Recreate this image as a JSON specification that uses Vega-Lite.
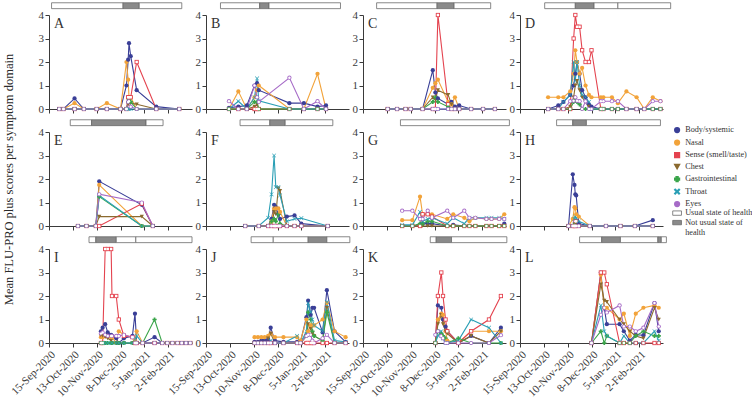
{
"$schema":"https://vega.github.io/schema/vega-lite/v6.json",
"background":"white",
"padding":{"left":1,"top":2,"right":0,"bottom":0},
"autosize":{"type":"pad"},
"columns":4,
"spacing":{"row":23,"column":14},
"bounds":"flush",
"resolve":{"scale":{"color":"shared","shape":"shared","fill":"shared"},"legend":{"color":"shared","shape":"shared","fill":"shared"}},
"datasets":{
"bars":[
{"p":"A","s":"2020-09-18","e":"2020-12-11","st":"Usual state of health"},
{"p":"A","s":"2020-12-11","e":"2020-12-30","st":"Not usual state of health"},
{"p":"A","s":"2020-12-30","e":"2021-02-18","st":"Usual state of health"},
{"p":"B","s":"2020-10-02","e":"2020-11-17","st":"Usual state of health"},
{"p":"B","s":"2020-11-17","e":"2020-11-28","st":"Not usual state of health"},
{"p":"B","s":"2020-11-28","e":"2021-02-20","st":"Usual state of health"},
{"p":"C","s":"2020-10-01","e":"2020-12-11","st":"Usual state of health"},
{"p":"C","s":"2020-12-11","e":"2020-12-31","st":"Not usual state of health"},
{"p":"C","s":"2020-12-31","e":"2021-02-12","st":"Usual state of health"},
{"p":"D","s":"2020-10-14","e":"2020-11-19","st":"Usual state of health"},
{"p":"D","s":"2020-11-19","e":"2020-12-11","st":"Not usual state of health"},
{"p":"D","s":"2020-12-11","e":"2021-01-08","st":"Usual state of health"},
{"p":"D","s":"2021-01-08","e":"2021-03-11","st":"Usual state of health"},
{"p":"E","s":"2020-10-10","e":"2020-11-04","st":"Usual state of health"},
{"p":"E","s":"2020-11-04","e":"2021-01-07","st":"Not usual state of health"},
{"p":"E","s":"2021-01-07","e":"2021-01-27","st":"Usual state of health"},
{"p":"F","s":"2020-10-25","e":"2020-11-29","st":"Usual state of health"},
{"p":"F","s":"2020-11-29","e":"2020-12-17","st":"Not usual state of health"},
{"p":"F","s":"2020-12-17","e":"2021-02-11","st":"Usual state of health"},
{"p":"G","s":"2020-10-29","e":"2021-03-06","st":"Usual state of health"},
{"p":"H","s":"2020-10-28","e":"2020-11-16","st":"Usual state of health"},
{"p":"H","s":"2020-11-16","e":"2020-12-02","st":"Not usual state of health"},
{"p":"H","s":"2020-12-02","e":"2021-02-27","st":"Usual state of health"},
{"p":"I","s":"2020-11-01","e":"2020-11-09","st":"Usual state of health"},
{"p":"I","s":"2020-11-09","e":"2020-12-03","st":"Not usual state of health"},
{"p":"I","s":"2020-12-03","e":"2020-12-26","st":"Usual state of health"},
{"p":"I","s":"2020-12-26","e":"2021-03-02","st":"Usual state of health"},
{"p":"J","s":"2020-11-07","e":"2020-12-03","st":"Usual state of health"},
{"p":"J","s":"2020-12-03","e":"2021-01-13","st":"Usual state of health"},
{"p":"J","s":"2021-01-13","e":"2021-02-04","st":"Not usual state of health"},
{"p":"J","s":"2021-02-04","e":"2021-03-03","st":"Usual state of health"},
{"p":"K","s":"2020-12-03","e":"2020-12-10","st":"Usual state of health"},
{"p":"K","s":"2020-12-10","e":"2020-12-28","st":"Not usual state of health"},
{"p":"K","s":"2020-12-28","e":"2021-03-03","st":"Usual state of health"},
{"p":"L","s":"2020-11-24","e":"2020-12-20","st":"Usual state of health"},
{"p":"L","s":"2020-12-20","e":"2021-01-11","st":"Not usual state of health"},
{"p":"L","s":"2021-01-11","e":"2021-02-24","st":"Usual state of health"},
{"p":"L","s":"2021-02-24","e":"2021-02-28","st":"Not usual state of health"},
{"p":"L","s":"2021-02-28","e":"2021-03-06","st":"Usual state of health"}
],
"obs":[
{"p":"A","date":"2020-09-27","b":0,"n":0,"s":0,"c":0,"g":0,"t":0,"e":0},
{"p":"A","date":"2020-10-02","b":0,"n":0,"s":0,"c":0,"g":0,"t":0,"e":0},
{"p":"A","date":"2020-10-15","b":0.45,"n":0.25,"s":0,"c":0,"g":0,"t":0,"e":0},
{"p":"A","date":"2020-10-26","b":0,"n":0,"s":0,"c":0,"g":0,"t":0,"e":0},
{"p":"A","date":"2020-11-10","b":0,"n":0,"s":0,"c":0,"g":0,"t":0,"e":0},
{"p":"A","date":"2020-11-22","b":0,"n":0.25,"s":0,"c":0,"g":0,"t":0,"e":0},
{"p":"A","date":"2020-12-08","b":0,"n":0,"s":0,"c":0,"g":0,"t":0,"e":0},
{"p":"A","date":"2020-12-15","b":1.0,"n":2.0,"s":0,"c":0,"g":0,"t":0,"e":0},
{"p":"A","date":"2020-12-17","b":2.1,"n":1.25,"s":0.5,"c":0.2,"g":0.3,"t":0,"e":0.3},
{"p":"A","date":"2020-12-18","b":2.8,"n":0.5,"s":0.5,"c":0.3,"g":0.4,"t":0,"e":0.33},
{"p":"A","date":"2020-12-20","b":2.25,"n":0.5,"s":0.5,"c":0.25,"g":0.3,"t":0,"e":0.1},
{"p":"A","date":"2020-12-27","b":0.8,"n":0,"s":2.0,"c":0.2,"g":0,"t":0,"e":0},
{"p":"A","date":"2021-01-19","b":0.1,"n":0,"s":0,"c":0,"g":0,"t":0,"e":0},
{"p":"A","date":"2021-02-15","b":0,"n":0,"s":0,"c":0,"g":0,"t":0,"e":0},
{"p":"B","date":"2020-10-12","b":0.05,"n":0,"s":0,"c":0,"g":0,"t":0,"e":0.33},
{"p":"B","date":"2020-10-23","b":0.1,"n":0.75,"s":0,"c":0,"g":0,"t":0.33,"e":0},
{"p":"B","date":"2020-11-02","b":0.15,"n":0,"s":0,"c":0,"g":0,"t":0,"e":0},
{"p":"B","date":"2020-11-11","b":1.0,"n":0.5,"s":0,"c":0.1,"g":0.3,"t":0.5,"e":1.0},
{"p":"B","date":"2020-11-14","b":1.1,"n":0.8,"s":0,"c":0.2,"g":0.3,"t":1.3,"e":0.5},
{"p":"B","date":"2020-11-16","b":0.8,"n":1.0,"s":0,"c":0,"g":0,"t":0.35,"e":0.3},
{"p":"B","date":"2020-12-22","b":0.25,"n":0,"s":0,"c":0,"g":0,"t":0,"e":1.33},
{"p":"B","date":"2021-01-08","b":0.25,"n":0,"s":0,"c":0,"g":0,"t":0,"e":0},
{"p":"B","date":"2021-01-24","b":0.1,"n":1.5,"s":0,"c":0,"g":0,"t":0,"e":0.33},
{"p":"B","date":"2021-02-03","b":0.15,"n":0,"s":0,"c":0,"g":0,"t":0,"e":0},
{"p":"C","date":"2020-10-14","b":0,"n":0,"s":0,"c":0,"g":0,"t":0,"e":0},
{"p":"C","date":"2020-10-25","b":0,"n":0,"s":0,"c":0,"g":0,"t":0,"e":0},
{"p":"C","date":"2020-11-04","b":0,"n":0,"s":0,"c":0,"g":0,"t":0,"e":0},
{"p":"C","date":"2020-11-10","b":0,"n":0,"s":0,"c":0,"g":0,"t":0,"e":0},
{"p":"C","date":"2020-11-24","b":0,"n":0,"s":0,"c":0,"g":0,"t":0,"e":0},
{"p":"C","date":"2020-12-06","b":1.65,"n":0.9,"s":0,"c":0.5,"g":0.3,"t":0,"e":0},
{"p":"C","date":"2020-12-09","b":0.7,"n":1.1,"s":0,"c":0.4,"g":0.5,"t":0,"e":0},
{"p":"C","date":"2020-12-12","b":0.45,"n":1.25,"s":4.0,"c":0.8,"g":0.3,"t":0,"e":0},
{"p":"C","date":"2020-12-24","b":0.2,"n":0.3,"s":0.2,"c":0.6,"g":0.1,"t":0,"e":0},
{"p":"C","date":"2020-12-28","b":0.3,"n":0.2,"s":0,"c":0.2,"g":0,"t":0,"e":0},
{"p":"C","date":"2021-01-01","b":0.1,"n":0.5,"s":0,"c":0,"g":0,"t":0,"e":0},
{"p":"C","date":"2021-01-06","b":0.15,"n":0,"s":0,"c":0,"g":0,"t":0,"e":0},
{"p":"C","date":"2021-01-20","b":0,"n":0,"s":0,"c":0,"g":0,"t":0,"e":0},
{"p":"C","date":"2021-02-03","b":0,"n":0,"s":0,"c":0,"g":0,"t":0,"e":0},
{"p":"C","date":"2021-02-17","b":0,"n":0,"s":0,"c":0,"g":0,"t":0,"e":0},
{"p":"D","date":"2020-10-18","b":0,"n":0.5,"s":0,"c":0,"g":0,"t":0,"e":0},
{"p":"D","date":"2020-10-30","b":0.15,"n":0.5,"s":0,"c":0,"g":0,"t":0,"e":0},
{"p":"D","date":"2020-11-05","b":0.3,"n":0.5,"s":0,"c":0,"g":0,"t":0.3,"e":0},
{"p":"D","date":"2020-11-13","b":0.6,"n":0.75,"s":0,"c":0.1,"g":0,"t":0.6,"e":0.33},
{"p":"D","date":"2020-11-17","b":1.0,"n":1.5,"s":3.0,"c":0.5,"g":0.3,"t":2.0,"e":0.35},
{"p":"D","date":"2020-11-19","b":1.5,"n":2.5,"s":4.0,"c":1.0,"g":0.4,"t":1.2,"e":0.5},
{"p":"D","date":"2020-11-21","b":2.0,"n":2.0,"s":3.5,"c":1.2,"g":0.3,"t":2.0,"e":0.35},
{"p":"D","date":"2020-11-24","b":1.5,"n":1.5,"s":3.5,"c":0.8,"g":0.2,"t":1.0,"e":0.33},
{"p":"D","date":"2020-11-27","b":0.8,"n":1.75,"s":2.5,"c":0.5,"g":0,"t":0.6,"e":0},
{"p":"D","date":"2020-12-01","b":0.5,"n":1.0,"s":2.0,"c":0.3,"g":0,"t":0.5,"e":0.33},
{"p":"D","date":"2020-12-05","b":0.2,"n":0.6,"s":2.0,"c":0.1,"g":0,"t":0.3,"e":0},
{"p":"D","date":"2020-12-08","b":0.1,"n":0.5,"s":2.5,"c":0,"g":0,"t":0,"e":0},
{"p":"D","date":"2020-12-19","b":0,"n":0.5,"s":0,"c":0,"g":0,"t":0,"e":0.33},
{"p":"D","date":"2020-12-22","b":0,"n":0.5,"s":0,"c":0,"g":0,"t":0,"e":0.33},
{"p":"D","date":"2021-01-01","b":0,"n":0.5,"s":0,"c":0,"g":0,"t":0,"e":0.33},
{"p":"D","date":"2021-01-08","b":0,"n":0.25,"s":0,"c":0,"g":0,"t":0,"e":0.33},
{"p":"D","date":"2021-01-18","b":0,"n":0.75,"s":0,"c":0,"g":0,"t":0,"e":0},
{"p":"D","date":"2021-01-30","b":0,"n":0.5,"s":0,"c":0,"g":0,"t":0,"e":0},
{"p":"D","date":"2021-02-08","b":0,"n":0,"s":0,"c":0,"g":0,"t":0,"e":0},
{"p":"D","date":"2021-02-18","b":0,"n":0.5,"s":0,"c":0,"g":0,"t":0,"e":0.33},
{"p":"D","date":"2021-02-27","b":0,"n":0.33,"s":0,"c":0,"g":0,"t":0,"e":0.33},
{"p":"E","date":"2020-10-19","b":0,"n":0,"s":0,"c":0,"g":0,"t":0,"e":0},
{"p":"E","date":"2020-10-29","b":0,"n":0,"s":0,"c":0,"g":0,"t":0,"e":0},
{"p":"E","date":"2020-11-09","b":0,"n":0,"s":0,"c":0,"g":0,"t":0,"e":0},
{"p":"E","date":"2020-11-13","b":1.9,"n":1.75,"s":0,"c":0.4,"g":1.25,"t":1.3,"e":1.35},
{"p":"E","date":"2021-01-02","b":0.9,"n":0,"s":0.95,"c":0.4,"g":0,"t":0,"e":1.0},
{"p":"E","date":"2021-01-15","b":0,"n":0,"s":0,"c":0,"g":0,"t":0,"e":0},
{"p":"F","date":"2020-10-31","b":0,"n":0,"s":0,"c":0,"g":0,"t":0,"e":0},
{"p":"F","date":"2020-11-16","b":0,"n":0,"s":0,"c":0,"g":0,"t":0,"e":0},
{"p":"F","date":"2020-11-27","b":0,"n":0,"s":0,"c":0,"g":0,"t":0.35,"e":0},
{"p":"F","date":"2020-12-01","b":0.3,"n":0.2,"s":0,"c":0,"g":0.2,"t":1.35,"e":0},
{"p":"F","date":"2020-12-04","b":0.9,"n":0.75,"s":0,"c":0.6,"g":0.3,"t":3.0,"e":0},
{"p":"F","date":"2020-12-06","b":0.8,"n":0.75,"s":0,"c":0.5,"g":0.2,"t":1.65,"e":0},
{"p":"F","date":"2020-12-09","b":0.5,"n":0.75,"s":0,"c":1.6,"g":0.5,"t":1.65,"e":0},
{"p":"F","date":"2020-12-11","b":0.3,"n":0.6,"s":0,"c":1.5,"g":0.1,"t":1.3,"e":0},
{"p":"F","date":"2020-12-19","b":0.4,"n":0,"s":0,"c":0,"g":0,"t":0.2,"e":0},
{"p":"F","date":"2020-12-28","b":0.45,"n":0,"s":0,"c":0,"g":0,"t":0.3,"e":0},
{"p":"F","date":"2021-01-05","b":0.1,"n":0,"s":0,"c":0,"g":0,"t":0.33,"e":0},
{"p":"F","date":"2021-02-05","b":0,"n":0,"s":0,"c":0,"g":0,"t":0,"e":0},
{"p":"G","date":"2020-10-31","b":0,"n":0.25,"s":0,"c":0,"g":0,"t":0.05,"e":0.65},
{"p":"G","date":"2020-11-12","b":0,"n":0.25,"s":0,"c":0,"g":0,"t":0.05,"e":0.65},
{"p":"G","date":"2020-11-21","b":0.05,"n":1.25,"s":0,"c":0,"g":0.1,"t":0.6,"e":0.3},
{"p":"G","date":"2020-11-24","b":0.1,"n":0.5,"s":0.5,"c":0,"g":0.1,"t":0.2,"e":0.3},
{"p":"G","date":"2020-11-30","b":0.1,"n":0.5,"s":0.5,"c":0,"g":0.2,"t":0.3,"e":0.65},
{"p":"G","date":"2020-12-05","b":0.1,"n":0.5,"s":0.4,"c":0,"g":0.2,"t":0.35,"e":0.35},
{"p":"G","date":"2020-12-23","b":0,"n":0.3,"s":0,"c":0,"g":0,"t":0.1,"e":0.65},
{"p":"G","date":"2020-12-30","b":0.05,"n":0.5,"s":0,"c":0,"g":0,"t":0.35,"e":0.35},
{"p":"G","date":"2021-01-12","b":0,"n":0.35,"s":0,"c":0,"g":0,"t":0.1,"e":0.65},
{"p":"G","date":"2021-01-18","b":0,"n":0.2,"s":0,"c":0,"g":0,"t":0.35,"e":0.35},
{"p":"G","date":"2021-01-25","b":0,"n":0.35,"s":0,"c":0,"g":0,"t":0.35,"e":0.35},
{"p":"G","date":"2021-02-07","b":0,"n":0.3,"s":0,"c":0,"g":0,"t":0.35,"e":0.3},
{"p":"G","date":"2021-02-13","b":0,"n":0.3,"s":0,"c":0,"g":0,"t":0.35,"e":0.3},
{"p":"G","date":"2021-02-22","b":0,"n":0.3,"s":0,"c":0,"g":0,"t":0.35,"e":0.3},
{"p":"G","date":"2021-02-28","b":0.1,"n":0.5,"s":0,"c":0,"g":0,"t":0.3,"e":0.3},
{"p":"H","date":"2020-11-11","b":0,"n":0,"s":0,"c":0,"g":0,"t":0,"e":0},
{"p":"H","date":"2020-11-16","b":2.2,"n":0.3,"s":0,"c":0,"g":0,"t":0,"e":0},
{"p":"H","date":"2020-11-18","b":1.75,"n":0.8,"s":0,"c":0.1,"g":0,"t":0.3,"e":0},
{"p":"H","date":"2020-11-19","b":1.35,"n":0.75,"s":0,"c":0.2,"g":0.1,"t":0.4,"e":0.2},
{"p":"H","date":"2020-11-20","b":1.3,"n":0.5,"s":0.2,"c":0.1,"g":0,"t":0.33,"e":0},
{"p":"H","date":"2020-11-23","b":0.1,"n":0.4,"s":0,"c":0,"g":0,"t":0.2,"e":0},
{"p":"H","date":"2020-12-06","b":0,"n":0,"s":0,"c":0,"g":0,"t":0,"e":0},
{"p":"H","date":"2020-12-25","b":0,"n":0,"s":0,"c":0,"g":0,"t":0,"e":0},
{"p":"H","date":"2021-01-11","b":0,"n":0,"s":0,"c":0,"g":0,"t":0,"e":0},
{"p":"H","date":"2021-01-28","b":0,"n":0,"s":0,"c":0,"g":0,"t":0,"e":0},
{"p":"H","date":"2021-02-18","b":0.25,"n":0,"s":0,"c":0,"g":0,"t":0,"e":0},
{"p":"I","date":"2020-11-15","b":0.5,"n":0.25,"s":0,"c":0.3,"g":0,"t":0,"e":0.4},
{"p":"I","date":"2020-11-17","b":0.65,"n":0.25,"s":0,"c":0.3,"g":0,"t":0,"e":0.45},
{"p":"I","date":"2020-11-20","b":0.8,"n":0.3,"s":4.0,"c":0.25,"g":0,"t":0,"e":0.35},
{"p":"I","date":"2020-11-23","b":0.45,"n":0.3,"s":4.0,"c":0.2,"g":0,"t":0,"e":0.3},
{"p":"I","date":"2020-11-27","b":0.35,"n":0.25,"s":4.0,"c":0.1,"g":0,"t":0,"e":0.3},
{"p":"I","date":"2020-11-28","b":0.3,"n":0.25,"s":2.0,"c":0,"g":0,"t":0,"e":0.3},
{"p":"I","date":"2020-12-03","b":0.2,"n":0,"s":2.0,"c":0,"g":0,"t":0,"e":0.3},
{"p":"I","date":"2020-12-06","b":0,"n":0.5,"s":1.0,"c":0,"g":0,"t":0,"e":0.3},
{"p":"I","date":"2020-12-12","b":0.2,"n":0.35,"s":0.3,"c":0,"g":0,"t":0,"e":0.35},
{"p":"I","date":"2020-12-22","b":0.3,"n":0.25,"s":0.25,"c":0,"g":0,"t":0,"e":0.25},
{"p":"I","date":"2020-12-25","b":1.25,"n":0.1,"s":0,"c":0,"g":0,"t":0.15,"e":0},
{"p":"I","date":"2020-12-27","b":0,"n":0.5,"s":0,"c":0,"g":0,"t":0.3,"e":0},
{"p":"I","date":"2021-01-03","b":0,"n":0,"s":0,"c":0,"g":0,"t":0,"e":0},
{"p":"I","date":"2021-01-17","b":0.25,"n":0,"s":0,"c":0,"g":1.0,"t":0,"e":0},
{"p":"I","date":"2021-01-26","b":0,"n":0,"s":0,"c":0,"g":0,"t":0,"e":0},
{"p":"I","date":"2021-02-01","b":0,"n":0,"s":0,"c":0,"g":0,"t":0,"e":0},
{"p":"I","date":"2021-02-07","b":0,"n":0,"s":0,"c":0,"g":0,"t":0,"e":0},
{"p":"I","date":"2021-02-13","b":0,"n":0,"s":0,"c":0,"g":0,"t":0,"e":0},
{"p":"I","date":"2021-02-18","b":0,"n":0,"s":0,"c":0,"g":0,"t":0,"e":0},
{"p":"I","date":"2021-02-23","b":0,"n":0,"s":0,"c":0,"g":0,"t":0,"e":0},
{"p":"I","date":"2021-02-28","b":0,"n":0,"s":0,"c":0,"g":0,"t":0,"e":0},
{"p":"J","date":"2020-11-11","b":0.05,"n":0.25,"s":0,"c":0,"g":0,"t":0,"e":0},
{"p":"J","date":"2020-11-15","b":0.05,"n":0.25,"s":0,"c":0,"g":0,"t":0,"e":0},
{"p":"J","date":"2020-11-19","b":0.1,"n":0.25,"s":0,"c":0,"g":0,"t":0,"e":0},
{"p":"J","date":"2020-11-23","b":0.1,"n":0.25,"s":0,"c":0,"g":0,"t":0,"e":0},
{"p":"J","date":"2020-11-27","b":0.15,"n":0.3,"s":0,"c":0.2,"g":0,"t":0,"e":0},
{"p":"J","date":"2020-11-30","b":0.65,"n":0.4,"s":0,"c":0.4,"g":0,"t":0.1,"e":0},
{"p":"J","date":"2020-12-05","b":0.1,"n":0.25,"s":0,"c":0,"g":0,"t":0,"e":0},
{"p":"J","date":"2020-12-15","b":0.05,"n":0.25,"s":0,"c":0,"g":0,"t":0,"e":0},
{"p":"J","date":"2020-12-31","b":0.05,"n":0.25,"s":0,"c":0,"g":0,"t":0.3,"e":0},
{"p":"J","date":"2021-01-04","b":0.05,"n":0.1,"s":0,"c":0,"g":0,"t":0,"e":0},
{"p":"J","date":"2021-01-11","b":1.1,"n":1.0,"s":0,"c":0.3,"g":0.3,"t":0.5,"e":0.3},
{"p":"J","date":"2021-01-13","b":1.8,"n":0.5,"s":0,"c":0.8,"g":1.3,"t":1.7,"e":0.35},
{"p":"J","date":"2021-01-16","b":1.2,"n":0.75,"s":0,"c":0.6,"g":1.0,"t":1.3,"e":0.35},
{"p":"J","date":"2021-01-18","b":1.5,"n":0.75,"s":0,"c":0.4,"g":0.5,"t":1.0,"e":0.1},
{"p":"J","date":"2021-01-20","b":1.5,"n":0.75,"s":0,"c":0.3,"g":0.3,"t":0.75,"e":0},
{"p":"J","date":"2021-01-30","b":0.45,"n":1.0,"s":0,"c":0.1,"g":0.1,"t":0.5,"e":0.2},
{"p":"J","date":"2021-02-04","b":2.25,"n":1.7,"s":0,"c":1.5,"g":1.3,"t":1.75,"e":0.35},
{"p":"J","date":"2021-02-13","b":0.5,"n":0.5,"s":0,"c":0,"g":0,"t":0.1,"e":0},
{"p":"J","date":"2021-02-26","b":0.05,"n":0.25,"s":0,"c":0,"g":0,"t":0.05,"e":0},
{"p":"K","date":"2020-12-09","b":0,"n":0,"s":0,"c":0,"g":0,"t":0,"e":0.35},
{"p":"K","date":"2020-12-12","b":1.6,"n":1.0,"s":2.0,"c":0.8,"g":0.5,"t":0.3,"e":0.5},
{"p":"K","date":"2020-12-16","b":1.5,"n":1.25,"s":3.0,"c":1.2,"g":0.4,"t":0.5,"e":0.3},
{"p":"K","date":"2020-12-18","b":1.0,"n":1.2,"s":2.0,"c":0.8,"g":0.3,"t":0.2,"e":0.2},
{"p":"K","date":"2020-12-21","b":0.7,"n":0.5,"s":1.0,"c":0.5,"g":0.2,"t":0,"e":0},
{"p":"K","date":"2020-12-23","b":0.5,"n":0.1,"s":0.5,"c":0.4,"g":0,"t":0,"e":0},
{"p":"K","date":"2021-01-05","b":0,"n":0,"s":0,"c":0,"g":0.2,"t":0.1,"e":0},
{"p":"K","date":"2021-01-20","b":0.3,"n":0.5,"s":0.5,"c":0.3,"g":0,"t":1.0,"e":0},
{"p":"K","date":"2021-02-10","b":0,"n":0.5,"s":1.0,"c":0,"g":0,"t":0.65,"e":0},
{"p":"K","date":"2021-02-24","b":0.65,"n":0.5,"s":2.0,"c":0.5,"g":0,"t":0,"e":0.33},
{"p":"L","date":"2020-12-08","b":0,"n":0,"s":0,"c":0,"g":0,"t":0,"e":0},
{"p":"L","date":"2020-12-19","b":3.0,"n":2.9,"s":3.0,"c":2.5,"g":0.5,"t":1.6,"e":1.2},
{"p":"L","date":"2020-12-23","b":1.5,"n":1.5,"s":3.0,"c":1.8,"g":0,"t":0.5,"e":1.5},
{"p":"L","date":"2020-12-26","b":0.8,"n":1.5,"s":2.5,"c":1.75,"g":0.3,"t":0.3,"e":1.3},
{"p":"L","date":"2021-01-10","b":0.8,"n":1.0,"s":0,"c":1.0,"g":0,"t":0,"e":1.6},
{"p":"L","date":"2021-01-15","b":0.5,"n":1.25,"s":0,"c":0.8,"g":0,"t":0.3,"e":0.7},
{"p":"L","date":"2021-01-22","b":0.1,"n":0.3,"s":0,"c":0.5,"g":0,"t":0,"e":0.7},
{"p":"L","date":"2021-01-29","b":0.35,"n":1.25,"s":0,"c":0.3,"g":0.3,"t":0,"e":0.5},
{"p":"L","date":"2021-02-07","b":0.33,"n":1.5,"s":0,"c":0.2,"g":0.5,"t":0,"e":0.65},
{"p":"L","date":"2021-02-20","b":1.7,"n":1.6,"s":0,"c":1.5,"g":0.3,"t":0.5,"e":1.7},
{"p":"L","date":"2021-02-25","b":0.5,"n":1.5,"s":0,"c":1.0,"g":0.3,"t":0.1,"e":0.7}
]
},
"concat":[
{"width":143,"height":94,"layer":[
{"data":{"name":"obs"},"transform":[{"filter":"datum.p=='A'"},{"fold":["b","n","s","c","g","t","e"],"as":["d","v"]}],"mark":{"type":"line","strokeWidth":1.1},"encoding":{"x":{"field":"date","type":"temporal","scale":{"type":"utc","domain":[{"year":2020,"month":9,"date":15,"utc":true},{"year":2021,"month":3,"date":2,"utc":true}]},"axis":{"values":[{"year":2020,"month":9,"date":15,"utc":true},{"year":2020,"month":10,"date":13,"utc":true},{"year":2020,"month":11,"date":10,"utc":true},{"year":2020,"month":12,"date":8,"utc":true},{"year":2021,"month":1,"date":5,"utc":true},{"year":2021,"month":2,"date":2,"utc":true}],"tickCount":12,"labels":false,"title":null}},"y":{"field":"v","type":"quantitative","scale":{"domain":[0,4],"nice":false},"axis":{"values":[0,1,2,3,4],"tickCount":10,"format":"d","title":null,"labelOverlap":false}},"color":{"field":"d","type":"nominal","scale":{"domain":["b","n","s","c","g","t","e"],"range":["#3a3f97","#f2a33a","#e4434f","#8b6a2f","#3aa54a","#2a9fb5","#a66bc7"]},"legend":{"title":null,"orient":"none","legendX":624,"legendY":111,"labelExpr":"datum.label=='b'?'Body/systemic':datum.label=='n'?'Nasal':datum.label=='s'?'Sense (smell/taste)':datum.label=='c'?'Chest':datum.label=='g'?'Gastrointestinal':datum.label=='t'?'Throat':'Eyes'"}}}},
{"data":{"name":"bars"},"transform":[{"filter":"datum.p=='A'"}],"mark":{"type":"rect","stroke":"#6b6b6b","strokeWidth":0.8},"encoding":{"x":{"field":"s","type":"temporal"},"x2":{"field":"e"},"y":{"datum":4.27,"type":"quantitative"},"y2":{"datum":4.52},"fill":{"field":"st","type":"nominal","scale":{"domain":["Usual state of health","Not usual state of health"],"range":["#ffffff","#8a8a8a"]},"legend":{"title":null,"orient":"none","legendX":624,"legendY":194,"symbolType":"M-1.6,-0.8H1.6V0.8H-1.6Z","symbolStrokeColor":"#555555","symbolStrokeWidth":0.8,"symbolSize":30,"labelExpr":"datum.label=='Not usual state of health'?['Not usual state of','health']:datum.label"}}}},
{"data":{"name":"obs"},"transform":[{"filter":"datum.p=='A'"},{"fold":["b","n","s","c","g","t","e"],"as":["d","v"]}],"mark":{"type":"point","filled":true,"size":18,"opacity":1},"encoding":{"x":{"field":"date","type":"temporal"},"y":{"field":"v","type":"quantitative"},"color":{"field":"d","type":"nominal","legend":{"title":null,"orient":"none","legendX":624,"legendY":111,"labelExpr":"datum.label=='b'?'Body/systemic':datum.label=='n'?'Nasal':datum.label=='s'?'Sense (smell/taste)':datum.label=='c'?'Chest':datum.label=='g'?'Gastrointestinal':datum.label=='t'?'Throat':'Eyes'"}},"shape":{"field":"d","type":"nominal","scale":{"domain":["b","n","s","c","g","t","e"],"range":["circle","circle","square","triangle-down","cross","M-0.8,-1L0,-0.2L0.8,-1L1,-0.8L0.2,0L1,0.8L0.8,1L0,0.2L-0.8,1L-1,0.8L-0.2,0L-1,-0.8Z","circle"]},"legend":{"title":null,"orient":"none","legendX":624,"legendY":111,"labelExpr":"datum.label=='b'?'Body/systemic':datum.label=='n'?'Nasal':datum.label=='s'?'Sense (smell/taste)':datum.label=='c'?'Chest':datum.label=='g'?'Gastrointestinal':datum.label=='t'?'Throat':'Eyes'"}}}},
{"data":{"name":"obs"},"transform":[{"filter":"datum.p=='A'"},{"fold":["b","n","s","c","g","t","e"],"as":["d","v"]},{"filter":"datum.d=='s'||datum.d=='e'"}],"mark":{"type":"point","filled":true,"size":6,"color":"#ffffff","opacity":1},"encoding":{"x":{"field":"date","type":"temporal"},"y":{"field":"v","type":"quantitative"},"shape":{"field":"d","type":"nominal","legend":null}}},
{"data":{"values":[{"lab":"A"}]},"mark":{"type":"text","align":"left","baseline":"middle","fontSize":14,"color":"#333333"},"encoding":{"x":{"datum":{"year":2020,"month":9,"date":21,"utc":true},"type":"temporal"},"y":{"datum":3.62,"type":"quantitative"},"text":{"field":"lab"}}}
]},
{"width":143,"height":94,"layer":[
{"data":{"name":"obs"},"transform":[{"filter":"datum.p=='B'"},{"fold":["b","n","s","c","g","t","e"],"as":["d","v"]}],"mark":{"type":"line","strokeWidth":1.1},"encoding":{"x":{"field":"date","type":"temporal","scale":{"type":"utc","domain":[{"year":2020,"month":9,"date":15,"utc":true},{"year":2021,"month":3,"date":2,"utc":true}]},"axis":{"values":[{"year":2020,"month":9,"date":15,"utc":true},{"year":2020,"month":10,"date":13,"utc":true},{"year":2020,"month":11,"date":10,"utc":true},{"year":2020,"month":12,"date":8,"utc":true},{"year":2021,"month":1,"date":5,"utc":true},{"year":2021,"month":2,"date":2,"utc":true}],"tickCount":12,"labels":false,"title":null}},"y":{"field":"v","type":"quantitative","scale":{"domain":[0,4],"nice":false},"axis":{"values":[0,1,2,3,4],"tickCount":10,"format":"d","title":null,"labelOverlap":false}},"color":{"field":"d","type":"nominal"}}},
{"data":{"name":"bars"},"transform":[{"filter":"datum.p=='B'"}],"mark":{"type":"rect","stroke":"#6b6b6b","strokeWidth":0.8},"encoding":{"x":{"field":"s","type":"temporal"},"x2":{"field":"e"},"y":{"datum":4.27,"type":"quantitative"},"y2":{"datum":4.52},"fill":{"field":"st","type":"nominal"}}},
{"data":{"name":"obs"},"transform":[{"filter":"datum.p=='B'"},{"fold":["b","n","s","c","g","t","e"],"as":["d","v"]}],"mark":{"type":"point","filled":true,"size":18,"opacity":1},"encoding":{"x":{"field":"date","type":"temporal"},"y":{"field":"v","type":"quantitative"},"color":{"field":"d","type":"nominal"},"shape":{"field":"d","type":"nominal"}}},
{"data":{"name":"obs"},"transform":[{"filter":"datum.p=='B'"},{"fold":["b","n","s","c","g","t","e"],"as":["d","v"]},{"filter":"datum.d=='s'||datum.d=='e'"}],"mark":{"type":"point","filled":true,"size":6,"color":"#ffffff","opacity":1},"encoding":{"x":{"field":"date","type":"temporal"},"y":{"field":"v","type":"quantitative"},"shape":{"field":"d","type":"nominal","legend":null}}},
{"data":{"values":[{"lab":"B"}]},"mark":{"type":"text","align":"left","baseline":"middle","fontSize":14,"color":"#333333"},"encoding":{"x":{"datum":{"year":2020,"month":9,"date":21,"utc":true},"type":"temporal"},"y":{"datum":3.62,"type":"quantitative"},"text":{"field":"lab"}}}
]},
{"width":143,"height":94,"layer":[
{"data":{"name":"obs"},"transform":[{"filter":"datum.p=='C'"},{"fold":["b","n","s","c","g","t","e"],"as":["d","v"]}],"mark":{"type":"line","strokeWidth":1.1},"encoding":{"x":{"field":"date","type":"temporal","scale":{"type":"utc","domain":[{"year":2020,"month":9,"date":15,"utc":true},{"year":2021,"month":3,"date":2,"utc":true}]},"axis":{"values":[{"year":2020,"month":9,"date":15,"utc":true},{"year":2020,"month":10,"date":13,"utc":true},{"year":2020,"month":11,"date":10,"utc":true},{"year":2020,"month":12,"date":8,"utc":true},{"year":2021,"month":1,"date":5,"utc":true},{"year":2021,"month":2,"date":2,"utc":true}],"tickCount":12,"labels":false,"title":null}},"y":{"field":"v","type":"quantitative","scale":{"domain":[0,4],"nice":false},"axis":{"values":[0,1,2,3,4],"tickCount":10,"format":"d","title":null,"labelOverlap":false}},"color":{"field":"d","type":"nominal"}}},
{"data":{"name":"bars"},"transform":[{"filter":"datum.p=='C'"}],"mark":{"type":"rect","stroke":"#6b6b6b","strokeWidth":0.8},"encoding":{"x":{"field":"s","type":"temporal"},"x2":{"field":"e"},"y":{"datum":4.27,"type":"quantitative"},"y2":{"datum":4.52},"fill":{"field":"st","type":"nominal"}}},
{"data":{"name":"obs"},"transform":[{"filter":"datum.p=='C'"},{"fold":["b","n","s","c","g","t","e"],"as":["d","v"]}],"mark":{"type":"point","filled":true,"size":18,"opacity":1},"encoding":{"x":{"field":"date","type":"temporal"},"y":{"field":"v","type":"quantitative"},"color":{"field":"d","type":"nominal"},"shape":{"field":"d","type":"nominal"}}},
{"data":{"name":"obs"},"transform":[{"filter":"datum.p=='C'"},{"fold":["b","n","s","c","g","t","e"],"as":["d","v"]},{"filter":"datum.d=='s'||datum.d=='e'"}],"mark":{"type":"point","filled":true,"size":6,"color":"#ffffff","opacity":1},"encoding":{"x":{"field":"date","type":"temporal"},"y":{"field":"v","type":"quantitative"},"shape":{"field":"d","type":"nominal","legend":null}}},
{"data":{"values":[{"lab":"C"}]},"mark":{"type":"text","align":"left","baseline":"middle","fontSize":14,"color":"#333333"},"encoding":{"x":{"datum":{"year":2020,"month":9,"date":21,"utc":true},"type":"temporal"},"y":{"datum":3.62,"type":"quantitative"},"text":{"field":"lab"}}}
]},
{"width":143,"height":94,"layer":[
{"data":{"name":"obs"},"transform":[{"filter":"datum.p=='D'"},{"fold":["b","n","s","c","g","t","e"],"as":["d","v"]}],"mark":{"type":"line","strokeWidth":1.1},"encoding":{"x":{"field":"date","type":"temporal","scale":{"type":"utc","domain":[{"year":2020,"month":9,"date":15,"utc":true},{"year":2021,"month":3,"date":2,"utc":true}]},"axis":{"values":[{"year":2020,"month":9,"date":15,"utc":true},{"year":2020,"month":10,"date":13,"utc":true},{"year":2020,"month":11,"date":10,"utc":true},{"year":2020,"month":12,"date":8,"utc":true},{"year":2021,"month":1,"date":5,"utc":true},{"year":2021,"month":2,"date":2,"utc":true}],"tickCount":12,"labels":false,"title":null}},"y":{"field":"v","type":"quantitative","scale":{"domain":[0,4],"nice":false},"axis":{"values":[0,1,2,3,4],"tickCount":10,"format":"d","title":null,"labelOverlap":false}},"color":{"field":"d","type":"nominal"}}},
{"data":{"name":"bars"},"transform":[{"filter":"datum.p=='D'"}],"mark":{"type":"rect","stroke":"#6b6b6b","strokeWidth":0.8},"encoding":{"x":{"field":"s","type":"temporal"},"x2":{"field":"e"},"y":{"datum":4.27,"type":"quantitative"},"y2":{"datum":4.52},"fill":{"field":"st","type":"nominal"}}},
{"data":{"name":"obs"},"transform":[{"filter":"datum.p=='D'"},{"fold":["b","n","s","c","g","t","e"],"as":["d","v"]}],"mark":{"type":"point","filled":true,"size":18,"opacity":1},"encoding":{"x":{"field":"date","type":"temporal"},"y":{"field":"v","type":"quantitative"},"color":{"field":"d","type":"nominal"},"shape":{"field":"d","type":"nominal"}}},
{"data":{"name":"obs"},"transform":[{"filter":"datum.p=='D'"},{"fold":["b","n","s","c","g","t","e"],"as":["d","v"]},{"filter":"datum.d=='s'||datum.d=='e'"}],"mark":{"type":"point","filled":true,"size":6,"color":"#ffffff","opacity":1},"encoding":{"x":{"field":"date","type":"temporal"},"y":{"field":"v","type":"quantitative"},"shape":{"field":"d","type":"nominal","legend":null}}},
{"data":{"values":[{"lab":"D"}]},"mark":{"type":"text","align":"left","baseline":"middle","fontSize":14,"color":"#333333"},"encoding":{"x":{"datum":{"year":2020,"month":9,"date":21,"utc":true},"type":"temporal"},"y":{"datum":3.62,"type":"quantitative"},"text":{"field":"lab"}}}
]},
{"width":143,"height":94,"layer":[
{"data":{"name":"obs"},"transform":[{"filter":"datum.p=='E'"},{"fold":["b","n","s","c","g","t","e"],"as":["d","v"]}],"mark":{"type":"line","strokeWidth":1.1},"encoding":{"x":{"field":"date","type":"temporal","scale":{"type":"utc","domain":[{"year":2020,"month":9,"date":15,"utc":true},{"year":2021,"month":3,"date":2,"utc":true}]},"axis":{"values":[{"year":2020,"month":9,"date":15,"utc":true},{"year":2020,"month":10,"date":13,"utc":true},{"year":2020,"month":11,"date":10,"utc":true},{"year":2020,"month":12,"date":8,"utc":true},{"year":2021,"month":1,"date":5,"utc":true},{"year":2021,"month":2,"date":2,"utc":true}],"tickCount":12,"labels":false,"title":null}},"y":{"field":"v","type":"quantitative","scale":{"domain":[0,4],"nice":false},"axis":{"values":[0,1,2,3,4],"tickCount":10,"format":"d","title":"Mean FLU-PRO plus scores per symptom domain","titlePadding":23,"labelOverlap":false}},"color":{"field":"d","type":"nominal"}}},
{"data":{"name":"bars"},"transform":[{"filter":"datum.p=='E'"}],"mark":{"type":"rect","stroke":"#6b6b6b","strokeWidth":0.8},"encoding":{"x":{"field":"s","type":"temporal"},"x2":{"field":"e"},"y":{"datum":4.27,"type":"quantitative"},"y2":{"datum":4.52},"fill":{"field":"st","type":"nominal"}}},
{"data":{"name":"obs"},"transform":[{"filter":"datum.p=='E'"},{"fold":["b","n","s","c","g","t","e"],"as":["d","v"]}],"mark":{"type":"point","filled":true,"size":18,"opacity":1},"encoding":{"x":{"field":"date","type":"temporal"},"y":{"field":"v","type":"quantitative"},"color":{"field":"d","type":"nominal"},"shape":{"field":"d","type":"nominal"}}},
{"data":{"name":"obs"},"transform":[{"filter":"datum.p=='E'"},{"fold":["b","n","s","c","g","t","e"],"as":["d","v"]},{"filter":"datum.d=='s'||datum.d=='e'"}],"mark":{"type":"point","filled":true,"size":6,"color":"#ffffff","opacity":1},"encoding":{"x":{"field":"date","type":"temporal"},"y":{"field":"v","type":"quantitative"},"shape":{"field":"d","type":"nominal","legend":null}}},
{"data":{"values":[{"lab":"E"}]},"mark":{"type":"text","align":"left","baseline":"middle","fontSize":14,"color":"#333333"},"encoding":{"x":{"datum":{"year":2020,"month":9,"date":21,"utc":true},"type":"temporal"},"y":{"datum":3.62,"type":"quantitative"},"text":{"field":"lab"}}}
]},
{"width":143,"height":94,"layer":[
{"data":{"name":"obs"},"transform":[{"filter":"datum.p=='F'"},{"fold":["b","n","s","c","g","t","e"],"as":["d","v"]}],"mark":{"type":"line","strokeWidth":1.1},"encoding":{"x":{"field":"date","type":"temporal","scale":{"type":"utc","domain":[{"year":2020,"month":9,"date":15,"utc":true},{"year":2021,"month":3,"date":2,"utc":true}]},"axis":{"values":[{"year":2020,"month":9,"date":15,"utc":true},{"year":2020,"month":10,"date":13,"utc":true},{"year":2020,"month":11,"date":10,"utc":true},{"year":2020,"month":12,"date":8,"utc":true},{"year":2021,"month":1,"date":5,"utc":true},{"year":2021,"month":2,"date":2,"utc":true}],"tickCount":12,"labels":false,"title":null}},"y":{"field":"v","type":"quantitative","scale":{"domain":[0,4],"nice":false},"axis":{"values":[0,1,2,3,4],"tickCount":10,"format":"d","title":null,"labelOverlap":false}},"color":{"field":"d","type":"nominal"}}},
{"data":{"name":"bars"},"transform":[{"filter":"datum.p=='F'"}],"mark":{"type":"rect","stroke":"#6b6b6b","strokeWidth":0.8},"encoding":{"x":{"field":"s","type":"temporal"},"x2":{"field":"e"},"y":{"datum":4.27,"type":"quantitative"},"y2":{"datum":4.52},"fill":{"field":"st","type":"nominal"}}},
{"data":{"name":"obs"},"transform":[{"filter":"datum.p=='F'"},{"fold":["b","n","s","c","g","t","e"],"as":["d","v"]}],"mark":{"type":"point","filled":true,"size":18,"opacity":1},"encoding":{"x":{"field":"date","type":"temporal"},"y":{"field":"v","type":"quantitative"},"color":{"field":"d","type":"nominal"},"shape":{"field":"d","type":"nominal"}}},
{"data":{"name":"obs"},"transform":[{"filter":"datum.p=='F'"},{"fold":["b","n","s","c","g","t","e"],"as":["d","v"]},{"filter":"datum.d=='s'||datum.d=='e'"}],"mark":{"type":"point","filled":true,"size":6,"color":"#ffffff","opacity":1},"encoding":{"x":{"field":"date","type":"temporal"},"y":{"field":"v","type":"quantitative"},"shape":{"field":"d","type":"nominal","legend":null}}},
{"data":{"values":[{"lab":"F"}]},"mark":{"type":"text","align":"left","baseline":"middle","fontSize":14,"color":"#333333"},"encoding":{"x":{"datum":{"year":2020,"month":9,"date":21,"utc":true},"type":"temporal"},"y":{"datum":3.62,"type":"quantitative"},"text":{"field":"lab"}}}
]},
{"width":143,"height":94,"layer":[
{"data":{"name":"obs"},"transform":[{"filter":"datum.p=='G'"},{"fold":["b","n","s","c","g","t","e"],"as":["d","v"]}],"mark":{"type":"line","strokeWidth":1.1},"encoding":{"x":{"field":"date","type":"temporal","scale":{"type":"utc","domain":[{"year":2020,"month":9,"date":15,"utc":true},{"year":2021,"month":3,"date":2,"utc":true}]},"axis":{"values":[{"year":2020,"month":9,"date":15,"utc":true},{"year":2020,"month":10,"date":13,"utc":true},{"year":2020,"month":11,"date":10,"utc":true},{"year":2020,"month":12,"date":8,"utc":true},{"year":2021,"month":1,"date":5,"utc":true},{"year":2021,"month":2,"date":2,"utc":true}],"tickCount":12,"labels":false,"title":null}},"y":{"field":"v","type":"quantitative","scale":{"domain":[0,4],"nice":false},"axis":{"values":[0,1,2,3,4],"tickCount":10,"format":"d","title":null,"labelOverlap":false}},"color":{"field":"d","type":"nominal"}}},
{"data":{"name":"bars"},"transform":[{"filter":"datum.p=='G'"}],"mark":{"type":"rect","stroke":"#6b6b6b","strokeWidth":0.8},"encoding":{"x":{"field":"s","type":"temporal"},"x2":{"field":"e"},"y":{"datum":4.27,"type":"quantitative"},"y2":{"datum":4.52},"fill":{"field":"st","type":"nominal"}}},
{"data":{"name":"obs"},"transform":[{"filter":"datum.p=='G'"},{"fold":["b","n","s","c","g","t","e"],"as":["d","v"]}],"mark":{"type":"point","filled":true,"size":18,"opacity":1},"encoding":{"x":{"field":"date","type":"temporal"},"y":{"field":"v","type":"quantitative"},"color":{"field":"d","type":"nominal"},"shape":{"field":"d","type":"nominal"}}},
{"data":{"name":"obs"},"transform":[{"filter":"datum.p=='G'"},{"fold":["b","n","s","c","g","t","e"],"as":["d","v"]},{"filter":"datum.d=='s'||datum.d=='e'"}],"mark":{"type":"point","filled":true,"size":6,"color":"#ffffff","opacity":1},"encoding":{"x":{"field":"date","type":"temporal"},"y":{"field":"v","type":"quantitative"},"shape":{"field":"d","type":"nominal","legend":null}}},
{"data":{"values":[{"lab":"G"}]},"mark":{"type":"text","align":"left","baseline":"middle","fontSize":14,"color":"#333333"},"encoding":{"x":{"datum":{"year":2020,"month":9,"date":21,"utc":true},"type":"temporal"},"y":{"datum":3.62,"type":"quantitative"},"text":{"field":"lab"}}}
]},
{"width":143,"height":94,"layer":[
{"data":{"name":"obs"},"transform":[{"filter":"datum.p=='H'"},{"fold":["b","n","s","c","g","t","e"],"as":["d","v"]}],"mark":{"type":"line","strokeWidth":1.1},"encoding":{"x":{"field":"date","type":"temporal","scale":{"type":"utc","domain":[{"year":2020,"month":9,"date":15,"utc":true},{"year":2021,"month":3,"date":2,"utc":true}]},"axis":{"values":[{"year":2020,"month":9,"date":15,"utc":true},{"year":2020,"month":10,"date":13,"utc":true},{"year":2020,"month":11,"date":10,"utc":true},{"year":2020,"month":12,"date":8,"utc":true},{"year":2021,"month":1,"date":5,"utc":true},{"year":2021,"month":2,"date":2,"utc":true}],"tickCount":12,"labels":false,"title":null}},"y":{"field":"v","type":"quantitative","scale":{"domain":[0,4],"nice":false},"axis":{"values":[0,1,2,3,4],"tickCount":10,"format":"d","title":null,"labelOverlap":false}},"color":{"field":"d","type":"nominal"}}},
{"data":{"name":"bars"},"transform":[{"filter":"datum.p=='H'"}],"mark":{"type":"rect","stroke":"#6b6b6b","strokeWidth":0.8},"encoding":{"x":{"field":"s","type":"temporal"},"x2":{"field":"e"},"y":{"datum":4.27,"type":"quantitative"},"y2":{"datum":4.52},"fill":{"field":"st","type":"nominal"}}},
{"data":{"name":"obs"},"transform":[{"filter":"datum.p=='H'"},{"fold":["b","n","s","c","g","t","e"],"as":["d","v"]}],"mark":{"type":"point","filled":true,"size":18,"opacity":1},"encoding":{"x":{"field":"date","type":"temporal"},"y":{"field":"v","type":"quantitative"},"color":{"field":"d","type":"nominal"},"shape":{"field":"d","type":"nominal"}}},
{"data":{"name":"obs"},"transform":[{"filter":"datum.p=='H'"},{"fold":["b","n","s","c","g","t","e"],"as":["d","v"]},{"filter":"datum.d=='s'||datum.d=='e'"}],"mark":{"type":"point","filled":true,"size":6,"color":"#ffffff","opacity":1},"encoding":{"x":{"field":"date","type":"temporal"},"y":{"field":"v","type":"quantitative"},"shape":{"field":"d","type":"nominal","legend":null}}},
{"data":{"values":[{"lab":"H"}]},"mark":{"type":"text","align":"left","baseline":"middle","fontSize":14,"color":"#333333"},"encoding":{"x":{"datum":{"year":2020,"month":9,"date":21,"utc":true},"type":"temporal"},"y":{"datum":3.62,"type":"quantitative"},"text":{"field":"lab"}}}
]},
{"width":143,"height":94,"layer":[
{"data":{"name":"obs"},"transform":[{"filter":"datum.p=='I'"},{"fold":["b","n","s","c","g","t","e"],"as":["d","v"]}],"mark":{"type":"line","strokeWidth":1.1},"encoding":{"x":{"field":"date","type":"temporal","scale":{"type":"utc","domain":[{"year":2020,"month":9,"date":15,"utc":true},{"year":2021,"month":3,"date":2,"utc":true}]},"axis":{"values":[{"year":2020,"month":9,"date":15,"utc":true},{"year":2020,"month":10,"date":13,"utc":true},{"year":2020,"month":11,"date":10,"utc":true},{"year":2020,"month":12,"date":8,"utc":true},{"year":2021,"month":1,"date":5,"utc":true},{"year":2021,"month":2,"date":2,"utc":true}],"tickCount":12,"format":"%-d-%b-%Y","labelAngle":-45,"labelAlign":"right","labelBaseline":"top","labelOverlap":false,"title":null}},"y":{"field":"v","type":"quantitative","scale":{"domain":[0,4],"nice":false},"axis":{"values":[0,1,2,3,4],"tickCount":10,"format":"d","title":null,"labelOverlap":false}},"color":{"field":"d","type":"nominal"}}},
{"data":{"name":"bars"},"transform":[{"filter":"datum.p=='I'"}],"mark":{"type":"rect","stroke":"#6b6b6b","strokeWidth":0.8},"encoding":{"x":{"field":"s","type":"temporal"},"x2":{"field":"e"},"y":{"datum":4.27,"type":"quantitative"},"y2":{"datum":4.52},"fill":{"field":"st","type":"nominal"}}},
{"data":{"name":"obs"},"transform":[{"filter":"datum.p=='I'"},{"fold":["b","n","s","c","g","t","e"],"as":["d","v"]}],"mark":{"type":"point","filled":true,"size":18,"opacity":1},"encoding":{"x":{"field":"date","type":"temporal"},"y":{"field":"v","type":"quantitative"},"color":{"field":"d","type":"nominal"},"shape":{"field":"d","type":"nominal"}}},
{"data":{"name":"obs"},"transform":[{"filter":"datum.p=='I'"},{"fold":["b","n","s","c","g","t","e"],"as":["d","v"]},{"filter":"datum.d=='s'||datum.d=='e'"}],"mark":{"type":"point","filled":true,"size":6,"color":"#ffffff","opacity":1},"encoding":{"x":{"field":"date","type":"temporal"},"y":{"field":"v","type":"quantitative"},"shape":{"field":"d","type":"nominal","legend":null}}},
{"data":{"values":[{"lab":"I"}]},"mark":{"type":"text","align":"left","baseline":"middle","fontSize":14,"color":"#333333"},"encoding":{"x":{"datum":{"year":2020,"month":9,"date":21,"utc":true},"type":"temporal"},"y":{"datum":3.62,"type":"quantitative"},"text":{"field":"lab"}}}
]},
{"width":143,"height":94,"layer":[
{"data":{"name":"obs"},"transform":[{"filter":"datum.p=='J'"},{"fold":["b","n","s","c","g","t","e"],"as":["d","v"]}],"mark":{"type":"line","strokeWidth":1.1},"encoding":{"x":{"field":"date","type":"temporal","scale":{"type":"utc","domain":[{"year":2020,"month":9,"date":15,"utc":true},{"year":2021,"month":3,"date":2,"utc":true}]},"axis":{"values":[{"year":2020,"month":9,"date":15,"utc":true},{"year":2020,"month":10,"date":13,"utc":true},{"year":2020,"month":11,"date":10,"utc":true},{"year":2020,"month":12,"date":8,"utc":true},{"year":2021,"month":1,"date":5,"utc":true},{"year":2021,"month":2,"date":2,"utc":true}],"tickCount":12,"format":"%-d-%b-%Y","labelAngle":-45,"labelAlign":"right","labelBaseline":"top","labelOverlap":false,"title":null}},"y":{"field":"v","type":"quantitative","scale":{"domain":[0,4],"nice":false},"axis":{"values":[0,1,2,3,4],"tickCount":10,"format":"d","title":null,"labelOverlap":false}},"color":{"field":"d","type":"nominal"}}},
{"data":{"name":"bars"},"transform":[{"filter":"datum.p=='J'"}],"mark":{"type":"rect","stroke":"#6b6b6b","strokeWidth":0.8},"encoding":{"x":{"field":"s","type":"temporal"},"x2":{"field":"e"},"y":{"datum":4.27,"type":"quantitative"},"y2":{"datum":4.52},"fill":{"field":"st","type":"nominal"}}},
{"data":{"name":"obs"},"transform":[{"filter":"datum.p=='J'"},{"fold":["b","n","s","c","g","t","e"],"as":["d","v"]}],"mark":{"type":"point","filled":true,"size":18,"opacity":1},"encoding":{"x":{"field":"date","type":"temporal"},"y":{"field":"v","type":"quantitative"},"color":{"field":"d","type":"nominal"},"shape":{"field":"d","type":"nominal"}}},
{"data":{"name":"obs"},"transform":[{"filter":"datum.p=='J'"},{"fold":["b","n","s","c","g","t","e"],"as":["d","v"]},{"filter":"datum.d=='s'||datum.d=='e'"}],"mark":{"type":"point","filled":true,"size":6,"color":"#ffffff","opacity":1},"encoding":{"x":{"field":"date","type":"temporal"},"y":{"field":"v","type":"quantitative"},"shape":{"field":"d","type":"nominal","legend":null}}},
{"data":{"values":[{"lab":"J"}]},"mark":{"type":"text","align":"left","baseline":"middle","fontSize":14,"color":"#333333"},"encoding":{"x":{"datum":{"year":2020,"month":9,"date":21,"utc":true},"type":"temporal"},"y":{"datum":3.62,"type":"quantitative"},"text":{"field":"lab"}}}
]},
{"width":143,"height":94,"layer":[
{"data":{"name":"obs"},"transform":[{"filter":"datum.p=='K'"},{"fold":["b","n","s","c","g","t","e"],"as":["d","v"]}],"mark":{"type":"line","strokeWidth":1.1},"encoding":{"x":{"field":"date","type":"temporal","scale":{"type":"utc","domain":[{"year":2020,"month":9,"date":15,"utc":true},{"year":2021,"month":3,"date":2,"utc":true}]},"axis":{"values":[{"year":2020,"month":9,"date":15,"utc":true},{"year":2020,"month":10,"date":13,"utc":true},{"year":2020,"month":11,"date":10,"utc":true},{"year":2020,"month":12,"date":8,"utc":true},{"year":2021,"month":1,"date":5,"utc":true},{"year":2021,"month":2,"date":2,"utc":true}],"tickCount":12,"format":"%-d-%b-%Y","labelAngle":-45,"labelAlign":"right","labelBaseline":"top","labelOverlap":false,"title":null}},"y":{"field":"v","type":"quantitative","scale":{"domain":[0,4],"nice":false},"axis":{"values":[0,1,2,3,4],"tickCount":10,"format":"d","title":null,"labelOverlap":false}},"color":{"field":"d","type":"nominal"}}},
{"data":{"name":"bars"},"transform":[{"filter":"datum.p=='K'"}],"mark":{"type":"rect","stroke":"#6b6b6b","strokeWidth":0.8},"encoding":{"x":{"field":"s","type":"temporal"},"x2":{"field":"e"},"y":{"datum":4.27,"type":"quantitative"},"y2":{"datum":4.52},"fill":{"field":"st","type":"nominal"}}},
{"data":{"name":"obs"},"transform":[{"filter":"datum.p=='K'"},{"fold":["b","n","s","c","g","t","e"],"as":["d","v"]}],"mark":{"type":"point","filled":true,"size":18,"opacity":1},"encoding":{"x":{"field":"date","type":"temporal"},"y":{"field":"v","type":"quantitative"},"color":{"field":"d","type":"nominal"},"shape":{"field":"d","type":"nominal"}}},
{"data":{"name":"obs"},"transform":[{"filter":"datum.p=='K'"},{"fold":["b","n","s","c","g","t","e"],"as":["d","v"]},{"filter":"datum.d=='s'||datum.d=='e'"}],"mark":{"type":"point","filled":true,"size":6,"color":"#ffffff","opacity":1},"encoding":{"x":{"field":"date","type":"temporal"},"y":{"field":"v","type":"quantitative"},"shape":{"field":"d","type":"nominal","legend":null}}},
{"data":{"values":[{"lab":"K"}]},"mark":{"type":"text","align":"left","baseline":"middle","fontSize":14,"color":"#333333"},"encoding":{"x":{"datum":{"year":2020,"month":9,"date":21,"utc":true},"type":"temporal"},"y":{"datum":3.62,"type":"quantitative"},"text":{"field":"lab"}}}
]},
{"width":143,"height":94,"layer":[
{"data":{"name":"obs"},"transform":[{"filter":"datum.p=='L'"},{"fold":["b","n","s","c","g","t","e"],"as":["d","v"]}],"mark":{"type":"line","strokeWidth":1.1},"encoding":{"x":{"field":"date","type":"temporal","scale":{"type":"utc","domain":[{"year":2020,"month":9,"date":15,"utc":true},{"year":2021,"month":3,"date":2,"utc":true}]},"axis":{"values":[{"year":2020,"month":9,"date":15,"utc":true},{"year":2020,"month":10,"date":13,"utc":true},{"year":2020,"month":11,"date":10,"utc":true},{"year":2020,"month":12,"date":8,"utc":true},{"year":2021,"month":1,"date":5,"utc":true},{"year":2021,"month":2,"date":2,"utc":true}],"tickCount":12,"format":"%-d-%b-%Y","labelAngle":-45,"labelAlign":"right","labelBaseline":"top","labelOverlap":false,"title":null}},"y":{"field":"v","type":"quantitative","scale":{"domain":[0,4],"nice":false},"axis":{"values":[0,1,2,3,4],"tickCount":10,"format":"d","title":null,"labelOverlap":false}},"color":{"field":"d","type":"nominal"}}},
{"data":{"name":"bars"},"transform":[{"filter":"datum.p=='L'"}],"mark":{"type":"rect","stroke":"#6b6b6b","strokeWidth":0.8},"encoding":{"x":{"field":"s","type":"temporal"},"x2":{"field":"e"},"y":{"datum":4.27,"type":"quantitative"},"y2":{"datum":4.52},"fill":{"field":"st","type":"nominal"}}},
{"data":{"name":"obs"},"transform":[{"filter":"datum.p=='L'"},{"fold":["b","n","s","c","g","t","e"],"as":["d","v"]}],"mark":{"type":"point","filled":true,"size":18,"opacity":1},"encoding":{"x":{"field":"date","type":"temporal"},"y":{"field":"v","type":"quantitative"},"color":{"field":"d","type":"nominal"},"shape":{"field":"d","type":"nominal"}}},
{"data":{"name":"obs"},"transform":[{"filter":"datum.p=='L'"},{"fold":["b","n","s","c","g","t","e"],"as":["d","v"]},{"filter":"datum.d=='s'||datum.d=='e'"}],"mark":{"type":"point","filled":true,"size":6,"color":"#ffffff","opacity":1},"encoding":{"x":{"field":"date","type":"temporal"},"y":{"field":"v","type":"quantitative"},"shape":{"field":"d","type":"nominal","legend":null}}},
{"data":{"values":[{"lab":"L"}]},"mark":{"type":"text","align":"left","baseline":"middle","fontSize":14,"color":"#333333"},"encoding":{"x":{"datum":{"year":2020,"month":9,"date":21,"utc":true},"type":"temporal"},"y":{"datum":3.62,"type":"quantitative"},"text":{"field":"lab"}}}
]}
],
"config":{
"font":"Liberation Serif",
"view":{"stroke":null},
"axis":{"labelFont":"Liberation Serif","labelFontSize":11,"labelColor":"#3a3a3a","domainColor":"#3a3a3a","tickColor":"#3a3a3a","tickSize":4,"grid":false,"titleFont":"Liberation Serif","titleFontSize":12.5,"titleFontWeight":"normal","titleColor":"#2a2a2a","labelPadding":1.5,"labelOverlap":false,"labelFlush":false},
"legend":{"labelFont":"Liberation Serif","labelFontSize":8.2,"labelColor":"#333333","symbolSize":22,"rowPadding":0.5,"labelOffset":4,"padding":0}
}
}
